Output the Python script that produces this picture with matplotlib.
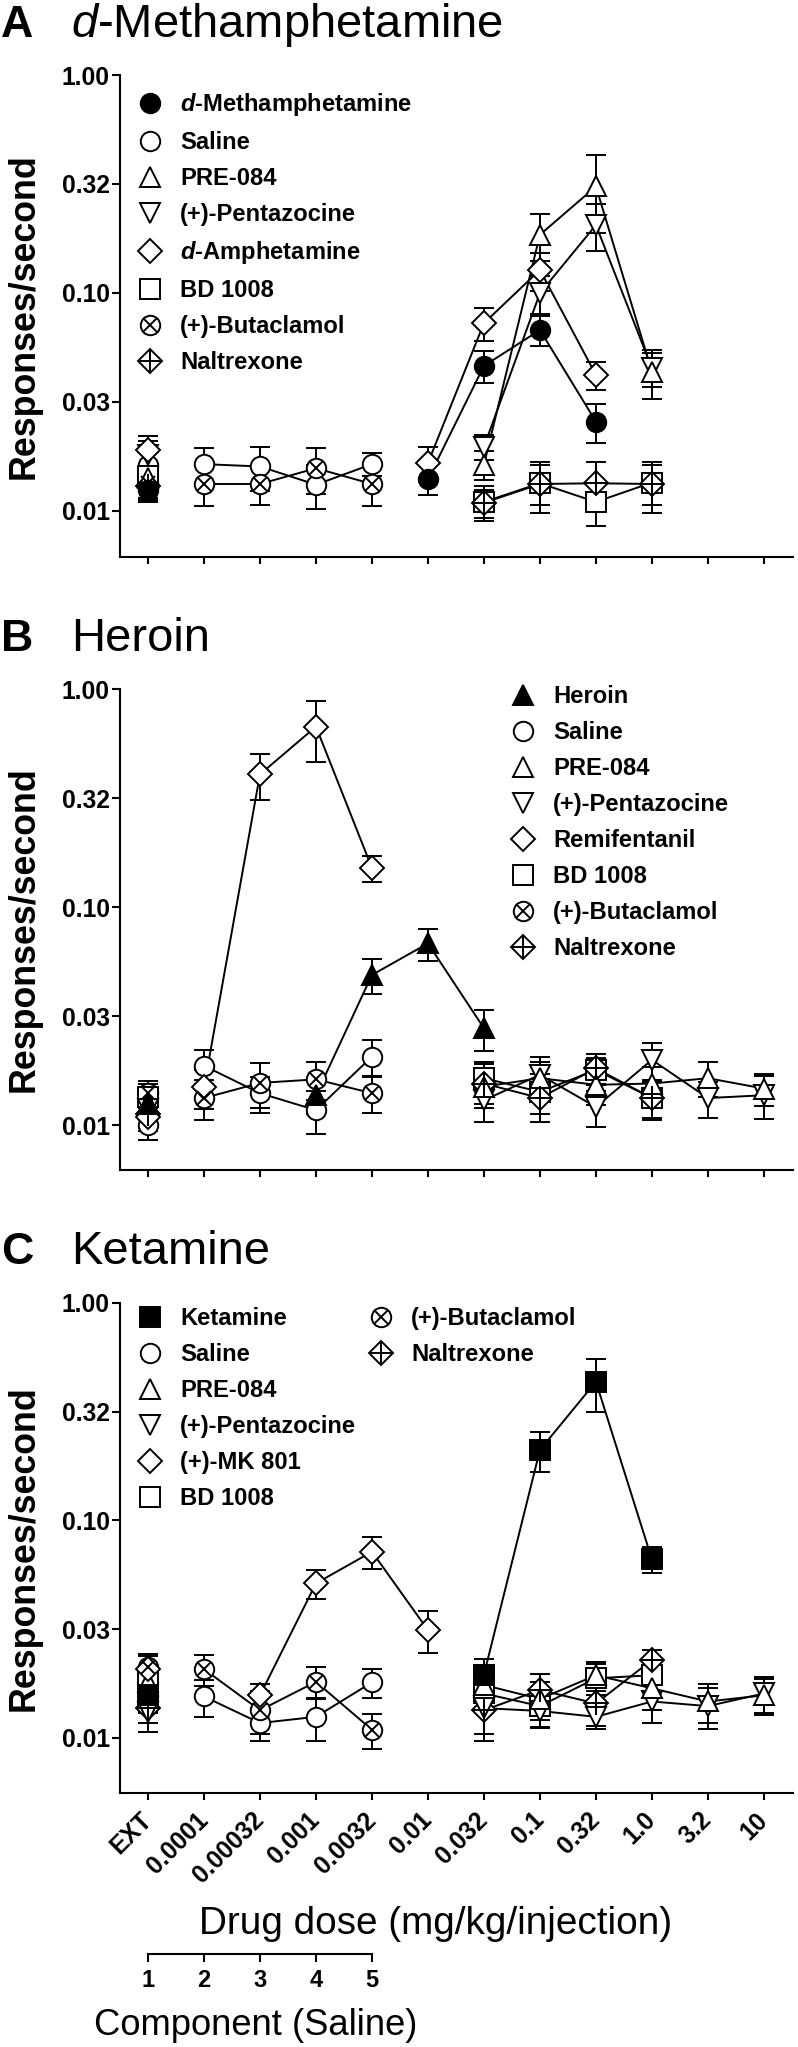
import matplotlib
matplotlib.use("Agg")
import matplotlib.pyplot as plt
from matplotlib.lines import Line2D
from matplotlib.legend_handler import HandlerTuple
from matplotlib import font_manager

plt.rcParams['font.family'] = ['Liberation Sans', 'DejaVu Sans']
plt.rcParams['mathtext.fontset'] = 'custom'
plt.rcParams['mathtext.rm'] = 'Liberation Sans'
plt.rcParams['mathtext.it'] = 'Liberation Sans:italic'
plt.rcParams['mathtext.bf'] = 'Liberation Sans:bold'
plt.rcParams['mathtext.bfit'] = 'Liberation Sans:bold:italic'

names = {f.name for f in font_manager.fontManager.ttflist}
TICK_FAMILY = 'Liberation Sans Narrow' if 'Liberation Sans Narrow' in names else 'Liberation Sans'

# ---------------- data ----------------
dose_labels = ["EXT", "0.0001", "0.00032", "0.001", "0.0032", "0.01",
               "0.032", "0.1", "0.32", "1.0", "3.2", "10"]
y_ticks = [1.0, 10 ** -0.5, 0.1, 10 ** -1.5, 0.01]
y_tick_labels = ["1.00", "0.32", "0.10", "0.03", "0.01"]
comp_labels = ["1", "2", "3", "4", "5"]

sal_doses = ["EXT", "0.0001", "0.00032", "0.001", "0.0032"]
sig_doses = ["EXT", "0.032", "0.1", "0.32", "1.0"]
sig_doses_long = ["EXT", "0.032", "0.1", "0.32", "1.0", "3.2", "10"]

# Panel A: d-Methamphetamine
A_meth_dose = ["EXT", "0.01", "0.032", "0.1", "0.32"]
A_meth_mean = [0.0125, 0.0140, 0.0463, 0.0676, 0.0257]
A_meth_sem = [0.0013, 0.0022, 0.0076, 0.0105, 0.0052]
A_sal_mean = [0.0163, 0.0164, 0.0160, 0.0132, 0.0164]
A_sal_sem = [0.0028, 0.0030, 0.0036, 0.0030, 0.0020]
A_pre_mean = [0.0142, 0.0163, 0.185, 0.308, 0.0436]
A_pre_sem = [0.0020, 0.0025, 0.045, 0.120, 0.011]
A_pent_mean = [0.0180, 0.0197, 0.0998, 0.205, 0.0452]
A_pent_sem = [0.0030, 0.0025, 0.020, 0.050, 0.008]
A_amph_dose = ["EXT", "0.01", "0.032", "0.1", "0.32"]
A_amph_mean = [0.0190, 0.0166, 0.0727, 0.1276, 0.0421]
A_amph_sem = [0.0030, 0.0030, 0.0125, 0.025, 0.0063]
A_bd_mean = [0.0145, 0.0110, 0.0134, 0.0110, 0.0135]
A_bd_sem = [0.0020, 0.0020, 0.0028, 0.0025, 0.0028]
A_buta_mean = [0.0135, 0.0133, 0.0133, 0.0157, 0.0133]
A_buta_sem = [0.0020, 0.0028, 0.0026, 0.0037, 0.0028]
A_nal_mean = [0.0130, 0.0109, 0.0133, 0.0134, 0.0133]
A_nal_sem = [0.0020, 0.0016, 0.0035, 0.0034, 0.0035]

# Panel B: Heroin
B_her_dose = ["EXT", "0.001", "0.0032", "0.01", "0.032"]
B_her_mean = [0.0126, 0.0137, 0.0488, 0.0681, 0.0278]
B_her_sem = [0.0015, 0.0025, 0.0088, 0.0115, 0.0060]
B_sal_mean = [0.0100, 0.0187, 0.0140, 0.0117, 0.0206]
B_sal_sem = [0.0015, 0.0033, 0.0026, 0.0026, 0.0040]
B_pre_mean = [0.0125, 0.0150, 0.0164, 0.0153, 0.0155, 0.0164, 0.0147]
B_pre_sem = [0.0020, 0.0025, 0.0030, 0.0030, 0.0030, 0.0030, 0.0025]
B_pent_mean = [0.0118, 0.0130, 0.0170, 0.0121, 0.0199, 0.0133, 0.0137]
B_pent_sem = [0.0020, 0.0027, 0.0035, 0.0023, 0.0038, 0.0025, 0.0030]
B_remi_mean = [0.0109, 0.0149, 0.406, 0.672, 0.151]
B_remi_sem = [0.0015, 0.0030, 0.095, 0.210, 0.021]
B_bd_mean = [0.0135, 0.0164, 0.0142, 0.0179, 0.0133]
B_bd_sem = [0.0020, 0.0030, 0.0030, 0.0025, 0.0027]
B_buta_mean = [0.0140, 0.0133, 0.0156, 0.0162, 0.0140]
B_buta_sem = [0.0020, 0.0028, 0.0036, 0.0032, 0.0027]
B_nal_mean = [0.0112, 0.0155, 0.0133, 0.0182, 0.0133]
B_nal_sem = [0.0015, 0.0035, 0.0030, 0.0030, 0.0025]

# Panel C: Ketamine
C_ket_mean = [0.0157, 0.0195, 0.2105, 0.4335, 0.0662]
C_ket_sem = [0.0025, 0.0035, 0.043, 0.120, 0.009]
C_sal_mean = [0.0155, 0.0155, 0.0117, 0.0125, 0.0180]
C_sal_sem = [0.0025, 0.0030, 0.0020, 0.0028, 0.0028]
C_pre_mean = [0.0181, 0.0175, 0.0151, 0.0194, 0.0169, 0.0147, 0.0157]
C_pre_sem = [0.0030, 0.0030, 0.0030, 0.0030, 0.0035, 0.0030, 0.0030]
C_pent_mean = [0.0132, 0.0137, 0.0133, 0.0125, 0.0147, 0.0140, 0.0160]
C_pent_sem = [0.0025, 0.0040, 0.0022, 0.0015, 0.0030, 0.0030, 0.0030]
C_mk_dose = ["EXT", "0.00032", "0.001", "0.0032", "0.01"]
C_mk_mean = [0.0207, 0.0157, 0.0513, 0.0717, 0.0313]
C_mk_sem = [0.0030, 0.0020, 0.0080, 0.0120, 0.0068]
C_bd_mean = [0.0188, 0.0160, 0.0140, 0.0188, 0.0194]
C_bd_sem = [0.0025, 0.0030, 0.0028, 0.0030, 0.0030]
C_buta_mean = [0.0212, 0.0207, 0.0134, 0.0181, 0.0109]
C_buta_sem = [0.0030, 0.0033, 0.0030, 0.0030, 0.0020]
C_nal_mean = [0.0137, 0.0134, 0.0166, 0.0144, 0.0228]
C_nal_sem = [0.0020, 0.0030, 0.0030, 0.0030, 0.0025]

# ---------------- styles ----------------
LW = 1.4
STY = {
    'fcircle': dict(m='o', fc='black', ms=14),
    'ftri': dict(m='^', fc='black', ms=14),
    'fsquare': dict(m='s', fc='black', ms=14),
    'circle': dict(m='o', fc='white', ms=14),
    'tri': dict(m='^', fc='white', ms=14),
    'vtri': dict(m='v', fc='white', ms=14),
    'diamond': dict(m='D', fc='white', ms=12),
    'square': dict(m='s', fc='white', ms=14),
    'xcircle': dict(m='o', fc='white', ms=14, om='x', oms=10),
    'pdiamond': dict(m='D', fc='white', ms=12, om='+', oms=17),
}

W, H = 798, 2047
fig = plt.figure(figsize=(W / 100, H / 100), dpi=100)
renderer = fig.canvas.get_renderer()


def fit_size(text, target_px, size, **kw):
    """Font size giving the reference's measured text width."""
    t = fig.text(0, 0, text, fontsize=size, **kw)
    w = t.get_window_extent(renderer=renderer).width
    t.remove()
    return size * target_px / w


TICK_SIZE = fit_size("1.00", 48, 20, family=TICK_FAMILY, weight='bold')
LEG_SIZE = fit_size("Naltrexone", 122, 16.5, family='Liberation Sans', weight='bold')
TITLE_SIZE = fit_size("Ketamine", 199, 34)
YLAB_SIZE = fit_size("Responses/second", 326, 26, weight='bold')
XLAB_SIZE = fit_size("Drug dose (mg/kg/injection)", 474, 28)
COMP_SIZE = fit_size("Component (Saline)", 323, 26)


def draw_series(ax, doses, mean, sem, kind):
    st = STY[kind]
    xs = [dose_labels.index(d) for d in doses]
    ax.errorbar(xs, mean, yerr=sem, fmt='none', ecolor='black',
                elinewidth=LW, capsize=7, capthick=LW, zorder=2)
    lx = [x for x, d in zip(xs, doses) if d != "EXT"]
    ly = [y for y, d in zip(mean, doses) if d != "EXT"]
    ax.plot(lx, ly, '-', color='black', lw=LW, zorder=2)
    ax.plot(xs, mean, linestyle='none', marker=st['m'], ms=st['ms'],
            mfc=st['fc'], mec='black', mew=LW, zorder=3)
    if 'om' in st:
        ax.plot(xs, mean, linestyle='none', marker=st['om'], ms=st['oms'],
                mec='black', mew=LW, zorder=4)


def handle(kind):
    st = STY[kind]
    h = Line2D([], [], linestyle='none', marker=st['m'], ms=st['ms'],
               mfc=st['fc'], mec='black', mew=LW)
    if 'om' in st:
        h2 = Line2D([], [], linestyle='none', marker=st['om'], ms=st['oms'],
                    mec='black', mew=LW)
        return (h, h2)
    return h


LEFT, RIGHT = 120, 793


def make_axes(top, bottom, ymin):
    ax = fig.add_axes([LEFT / W, 1 - bottom / H, (RIGHT - LEFT) / W, (bottom - top) / H])
    ax.set_yscale('log')
    ax.set_ylim(ymin, 1.0)
    ax.set_xlim(-0.5, 11.52)
    for s in ['top', 'right']:
        ax.spines[s].set_visible(False)
    for s in ['left', 'bottom']:
        ax.spines[s].set_linewidth(1.5)
    ax.set_yticks(y_ticks)
    ax.set_yticklabels(y_tick_labels, fontfamily=TICK_FAMILY,
                       fontweight='bold', fontsize=TICK_SIZE)
    ax.yaxis.set_minor_locator(matplotlib.ticker.NullLocator())
    ax.set_xticks(range(len(dose_labels)))
    ax.set_xticklabels([])
    ax.tick_params(axis='y', direction='out', length=5.8, width=1.5, pad=1.5)
    ax.tick_params(axis='x', direction='out', length=5.0, width=1.5)
    ax.set_ylabel('Responses/second', fontsize=YLAB_SIZE, fontweight='bold')
    ax.yaxis.set_label_coords((42 - LEFT) / (RIGHT - LEFT), 0.5)
    return ax


LEG_PROP = dict(family='Liberation Sans', weight='bold', size=LEG_SIZE)


def add_legend(ax, kinds, labels, xpx, top_px, ax_top, ax_bottom):
    xf = (xpx - LEFT) / (RIGHT - LEFT)
    yf = (ax_bottom - top_px) / (ax_bottom - ax_top)
    leg = ax.legend([handle(k) for k in kinds], labels, loc='upper left',
                    bbox_to_anchor=(xf, yf), frameon=False, prop=LEG_PROP,
                    handlelength=1.3, handletextpad=0.6, labelspacing=0.55,
                    borderpad=0, borderaxespad=0,
                    handler_map={tuple: HandlerTuple(ndivide=1)})
    return leg


def panel_title(letter, name, baseline):
    fig.text(1 / W, 1 - baseline / H, letter, fontsize=TITLE_SIZE * 0.95,
             fontweight='bold', va='baseline')
    fig.text(71 / W, 1 - baseline / H, name, fontsize=TITLE_SIZE, va='baseline')


# ---------------- Panel A ----------------
axA = make_axes(75, 557, 0.00615)
draw_series(axA, sal_doses, A_sal_mean, A_sal_sem, 'circle')
draw_series(axA, sal_doses, A_buta_mean, A_buta_sem, 'xcircle')
draw_series(axA, sig_doses, A_bd_mean, A_bd_sem, 'square')
draw_series(axA, sig_doses, A_nal_mean, A_nal_sem, 'pdiamond')
draw_series(axA, sig_doses, A_pent_mean, A_pent_sem, 'vtri')
draw_series(axA, sig_doses, A_pre_mean, A_pre_sem, 'tri')
draw_series(axA, A_amph_dose, A_amph_mean, A_amph_sem, 'diamond')
draw_series(axA, A_meth_dose, A_meth_mean, A_meth_sem, 'fcircle')
add_legend(axA, ['fcircle', 'circle', 'tri', 'vtri', 'diamond', 'square', 'xcircle', 'pdiamond'],
           [r"$\mathbfit{d}$-Methamphetamine", "Saline", "PRE-084", "(+)-Pentazocine",
            r"$\mathbfit{d}$-Amphetamine", "BD 1008", "(+)-Butaclamol", "Naltrexone"],
           135, 91, 75, 557)
panel_title('A', r"$\mathit{d}$-Methamphetamine", 37)

# ---------------- Panel B ----------------
axB = make_axes(689, 1170, 0.00622)
draw_series(axB, sal_doses, B_sal_mean, B_sal_sem, 'circle')
draw_series(axB, sal_doses, B_buta_mean, B_buta_sem, 'xcircle')
draw_series(axB, sig_doses, B_bd_mean, B_bd_sem, 'square')
draw_series(axB, sig_doses, B_nal_mean, B_nal_sem, 'pdiamond')
draw_series(axB, sig_doses_long, B_pent_mean, B_pent_sem, 'vtri')
draw_series(axB, sig_doses_long, B_pre_mean, B_pre_sem, 'tri')
draw_series(axB, sal_doses, B_remi_mean, B_remi_sem, 'diamond')
draw_series(axB, B_her_dose, B_her_mean, B_her_sem, 'ftri')
add_legend(axB, ['ftri', 'circle', 'tri', 'vtri', 'diamond', 'square', 'xcircle', 'pdiamond'],
           ["Heroin", "Saline", "PRE-084", "(+)-Pentazocine", "Remifentanil",
            "BD 1008", "(+)-Butaclamol", "Naltrexone"],
           508, 685, 689, 1170)
panel_title('B', "Heroin", 651)

# ---------------- Panel C ----------------
axC = make_axes(1302.7, 1792.7, 0.0056)
draw_series(axC, sal_doses, C_sal_mean, C_sal_sem, 'circle')
draw_series(axC, sal_doses, C_buta_mean, C_buta_sem, 'xcircle')
draw_series(axC, sig_doses, C_bd_mean, C_bd_sem, 'square')
draw_series(axC, sig_doses, C_nal_mean, C_nal_sem, 'pdiamond')
draw_series(axC, sig_doses_long, C_pent_mean, C_pent_sem, 'vtri')
draw_series(axC, sig_doses_long, C_pre_mean, C_pre_sem, 'tri')
draw_series(axC, C_mk_dose, C_mk_mean, C_mk_sem, 'diamond')
draw_series(axC, sig_doses, C_ket_mean, C_ket_sem, 'fsquare')
legC1 = add_legend(axC, ['fsquare', 'circle', 'tri', 'vtri', 'diamond', 'square'],
                   ["Ketamine", "Saline", "PRE-084", "(+)-Pentazocine", "(+)-MK 801", "BD 1008"],
                   135, 1307, 1302.7, 1792.7)
axC.add_artist(legC1)
add_legend(axC, ['xcircle', 'pdiamond'], ["(+)-Butaclamol", "Naltrexone"],
           366, 1307, 1302.7, 1792.7)
panel_title('C', "Ketamine", 1264)

axC.set_xticklabels(dose_labels, rotation=45, ha='right', va='center',
                    rotation_mode='anchor', fontfamily=TICK_FAMILY,
                    fontweight='bold', fontsize=TICK_SIZE)
axC.tick_params(axis='x', pad=12)

fig.text(436 / W, 1 - 1934 / H, 'Drug dose (mg/kg/injection)', fontsize=XLAB_SIZE,
         ha='center', va='baseline')

# ---------------- Component axis ----------------
axK = fig.add_axes([LEFT / W, 1 - 1954 / H, (RIGHT - LEFT) / W, 0.0001])
axK.set_xlim(-0.5, 11.52)
axK.patch.set_visible(False)
for s in ['top', 'right', 'left']:
    axK.spines[s].set_visible(False)
axK.spines['bottom'].set_linewidth(1.5)
axK.spines['bottom'].set_bounds(0, len(comp_labels) - 1)
axK.set_yticks([])
axK.set_xticks(range(len(comp_labels)))
axK.set_xticklabels(comp_labels, fontweight='bold', fontsize=17)
axK.tick_params(axis='x', direction='out', length=5.5, width=1.5, pad=5)
fig.text(256 / W, 1 - 2035 / H, 'Component (Saline)', fontsize=COMP_SIZE,
         ha='center', va='baseline')

fig.savefig('out.png', dpi=100)
